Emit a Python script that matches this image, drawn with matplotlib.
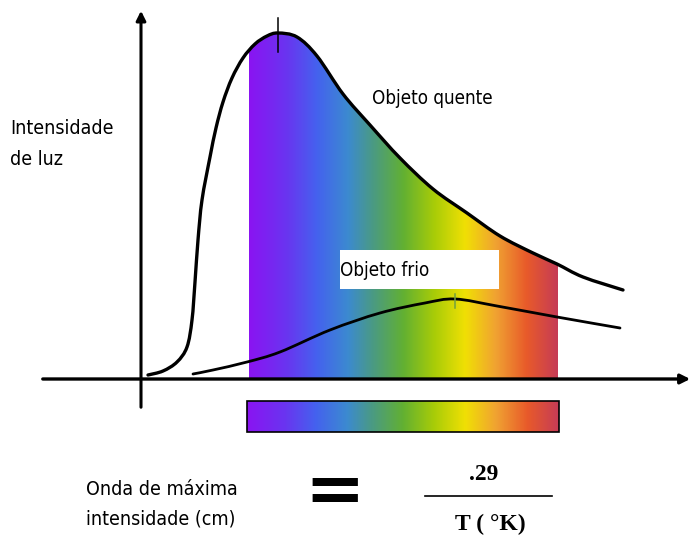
import matplotlib

matplotlib.use("Agg")
import matplotlib.pyplot as plt
import numpy as np
from matplotlib.colors import LinearSegmentedColormap
from matplotlib.patches import PathPatch, Rectangle
from matplotlib.path import Path

# curves in picture coordinates (x right, y down)
hot_x = [148, 163, 177, 187, 192, 195, 198, 202, 210, 216, 223, 232, 243, 255, 267,
         278, 297, 317, 343, 370, 400, 433, 467, 500, 533, 557, 583, 623]
hot_y = [375, 371, 362, 347, 320, 282, 240, 200, 157, 128, 102, 78, 58, 44, 36,
         33, 37, 56, 94, 125, 158, 189, 213, 236, 253, 264, 277, 290]
cold_x = [193, 213, 247, 280, 330, 380, 425, 455, 497, 557, 620]
cold_y = [374, 370, 362, 352, 330, 313, 303, 299, 306, 317, 328]

hot_peak = (278, 33)
cold_peak = (455, 299)
visible_band = (249, 558)

y_label = "Intensidade\nde luz"
hot_label = "Objeto quente"
cold_label = "Objeto frio"
left_formula = "Onda de máxima\nintensidade (cm)"
numerator = ".29"
denominator = "T ( °K)"

spectrum = LinearSegmentedColormap.from_list("spectrum", [
    (0.00, "#8a14f2"), (0.12, "#6a34f0"), (0.22, "#4462ee"), (0.32, "#3c8ad0"),
    (0.40, "#4a9a84"), (0.50, "#62b032"), (0.60, "#a8cc08"), (0.70, "#f0e004"),
    (0.80, "#f0a232"), (0.90, "#e85a2a"), (1.00, "#c63c56"),
])

narrow = dict(family="DejaVu Sans", stretch="condensed")
serif = ["Liberation Serif", "DejaVu Serif"]


def smooth_path(xs, ys, close_to=None):
    # Catmull-Rom through the points, drawn as cubic Bezier segments
    pts = np.column_stack([xs, ys]).astype(float)
    verts = [pts[0]]
    codes = [Path.MOVETO]
    for i in range(len(pts) - 1):
        p0 = pts[max(i - 1, 0)]
        p1, p2 = pts[i], pts[i + 1]
        p3 = pts[min(i + 2, len(pts) - 1)]
        verts += [p1 + (p2 - p0) / 6, p2 - (p3 - p1) / 6, p2]
        codes += [Path.CURVE4] * 3
    if close_to is not None:
        verts += [(xs[-1], close_to), (xs[0], close_to), pts[0]]
        codes += [Path.LINETO, Path.LINETO, Path.CLOSEPOLY]
    return Path(verts, codes)


fig = plt.figure(figsize=(6.94, 5.41), dpi=100)
ax = fig.add_axes([0, 0, 1, 1])
ax.set_xlim(0, 694)
ax.set_ylim(541, 0)
ax.axis("off")

base = 379
grad = np.linspace(0, 1, 256).reshape(1, -1)

# spectrum under the hot curve
img = ax.imshow(grad, cmap=spectrum, aspect="auto",
                extent=[visible_band[0], visible_band[1], base, 0], zorder=1)
clip = PathPatch(smooth_path(hot_x, hot_y, close_to=base), transform=ax.transData,
                 facecolor="none", edgecolor="none")
ax.add_patch(clip)
img.set_clip_path(clip)

# spectrum bar below the axis
ax.imshow(grad, cmap=spectrum, aspect="auto", extent=[247, 559, 432, 401], zorder=1)
ax.add_patch(Rectangle((247, 401), 312, 31, fill=False, edgecolor="black", lw=1.2, zorder=2))

# axes with arrows
ax.annotate("", xy=(141, 8), xytext=(141, 410),
            arrowprops=dict(arrowstyle="-|>", lw=2.2, color="black", mutation_scale=14))
ax.annotate("", xy=(693, base), xytext=(40, base),
            arrowprops=dict(arrowstyle="-|>", lw=2.4, color="black", mutation_scale=14))

ax.add_patch(PathPatch(smooth_path(hot_x, hot_y), facecolor="none", edgecolor="black",
                       lw=2.4, capstyle="round", zorder=3))
ax.add_patch(PathPatch(smooth_path(cold_x, cold_y), facecolor="none", edgecolor="black",
                       lw=2.0, capstyle="round", zorder=3))
ax.plot([hot_peak[0]] * 2, [hot_peak[1] - 15, hot_peak[1] + 19], color="black", lw=1.1, zorder=3)
ax.plot([cold_peak[0]] * 2, [cold_peak[1] - 5, cold_peak[1] + 9], color="#70a040", lw=1.1, zorder=3)

ax.text(10, 144, y_label, fontsize=14, va="center", ha="left", linespacing=1.75, **narrow)
ax.text(372, 99, hot_label, fontsize=13.5, va="center", ha="left", **narrow)
ax.add_patch(Rectangle((340, 250), 159, 39, facecolor="white", edgecolor="none", zorder=4))
ax.text(340, 270, cold_label, fontsize=13.5, va="center", ha="left", zorder=5, **narrow)

ax.text(86, 504, left_formula, fontsize=14, va="center", ha="left", linespacing=1.7, **narrow)
ax.text(335, 492, "=", fontsize=52, fontweight="bold", va="center", ha="center")
ax.text(484, 474, numerator, family=serif, fontsize=17, fontweight="bold", va="center", ha="center")
ax.plot([425, 552], [496, 496], color="black", lw=1.2)
ax.text(490, 524, denominator, family=serif, fontsize=17, fontweight="bold", va="center", ha="center")

fig.savefig("out.png", dpi=100)
